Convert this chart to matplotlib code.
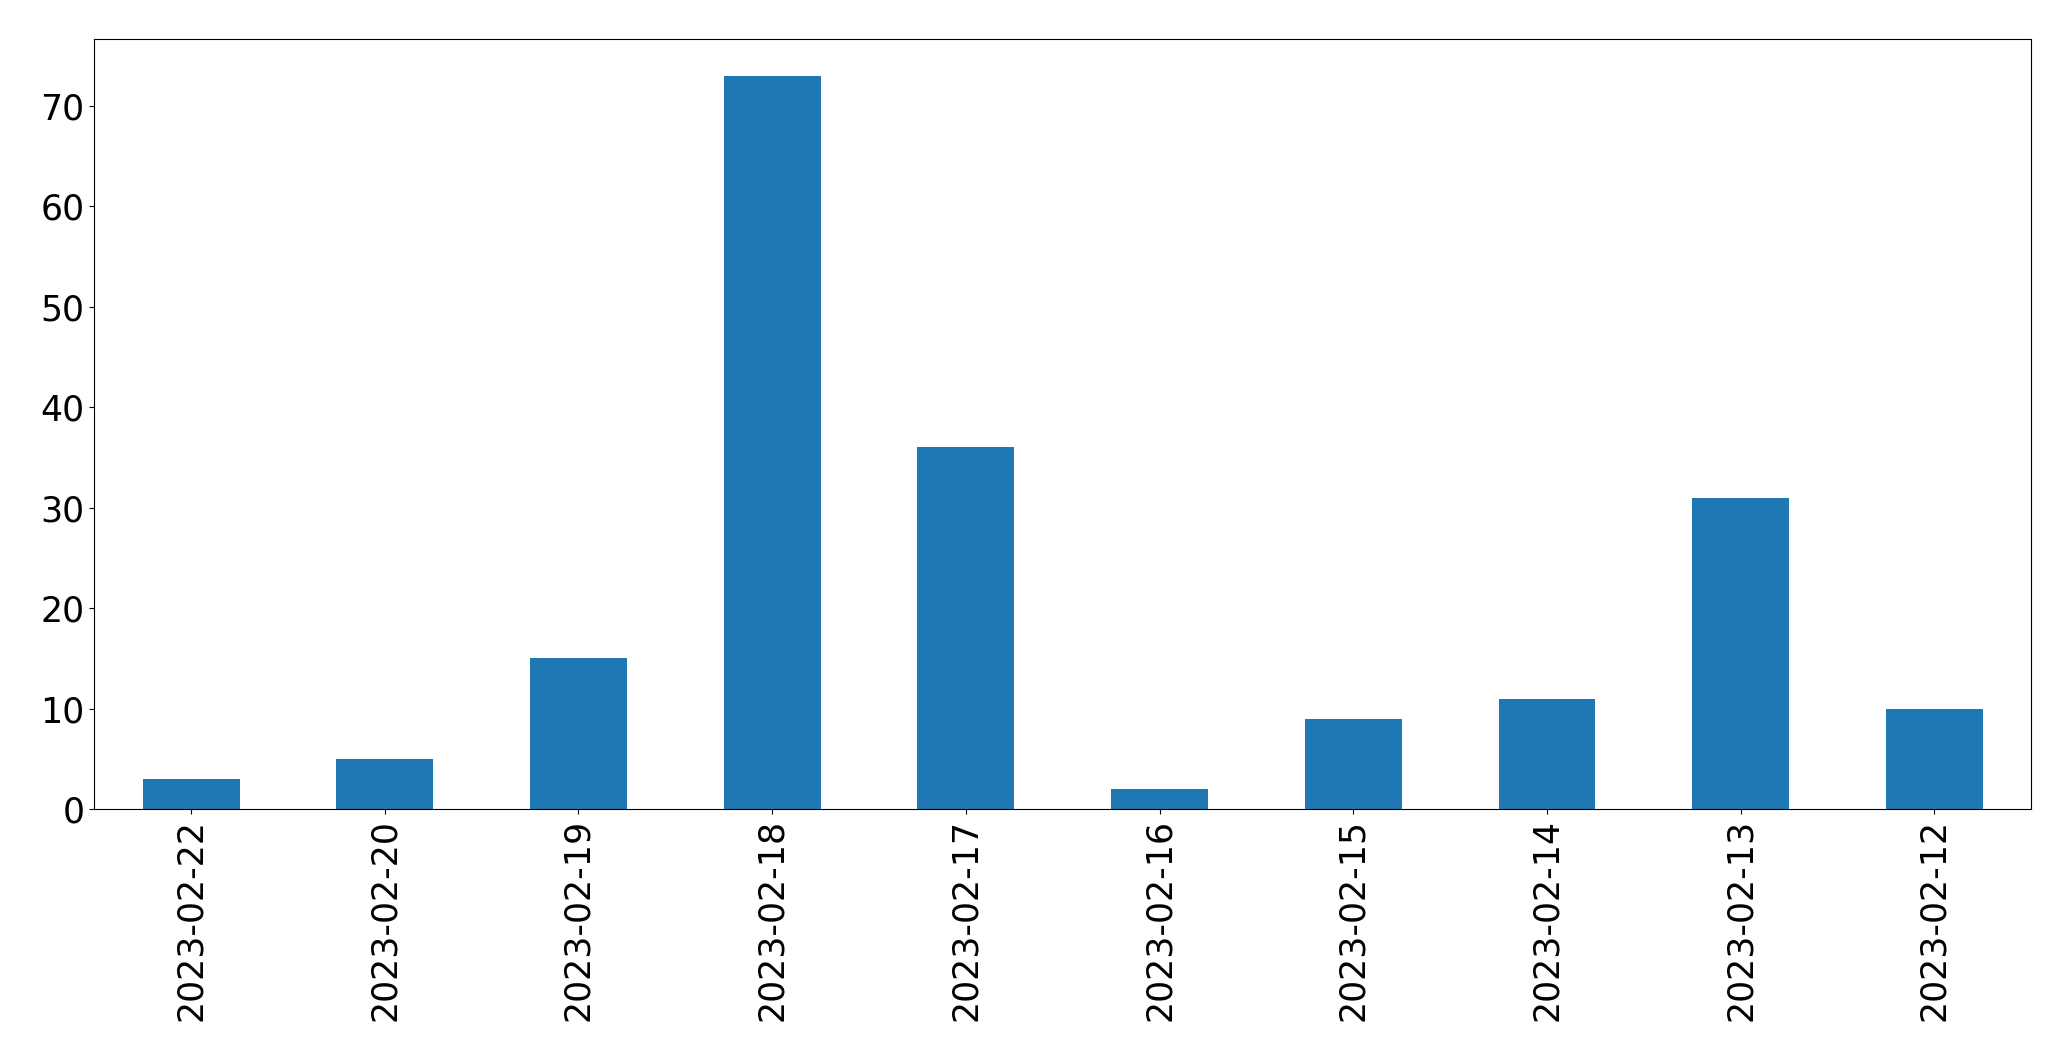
import pandas as pd
import matplotlib
matplotlib.use("Agg")
import matplotlib.pyplot as plt

dates = ["2023-02-22", "2023-02-20", "2023-02-19", "2023-02-18", "2023-02-17",
         "2023-02-16", "2023-02-15", "2023-02-14", "2023-02-13", "2023-02-12"]
counts = [3, 5, 15, 73, 36, 2, 9, 11, 31, 10]

s = pd.Series(counts, index=dates)

fig, ax = plt.subplots(figsize=(20.71, 10.61), dpi=100)
fig.subplots_adjust(left=0.0455, right=0.9808, top=0.963, bottom=0.2375)
s.plot(kind="bar", ax=ax, color="#1f77b4", fontsize=25)
ax.set_xlabel("")

fig.savefig("out.png", dpi=100)
